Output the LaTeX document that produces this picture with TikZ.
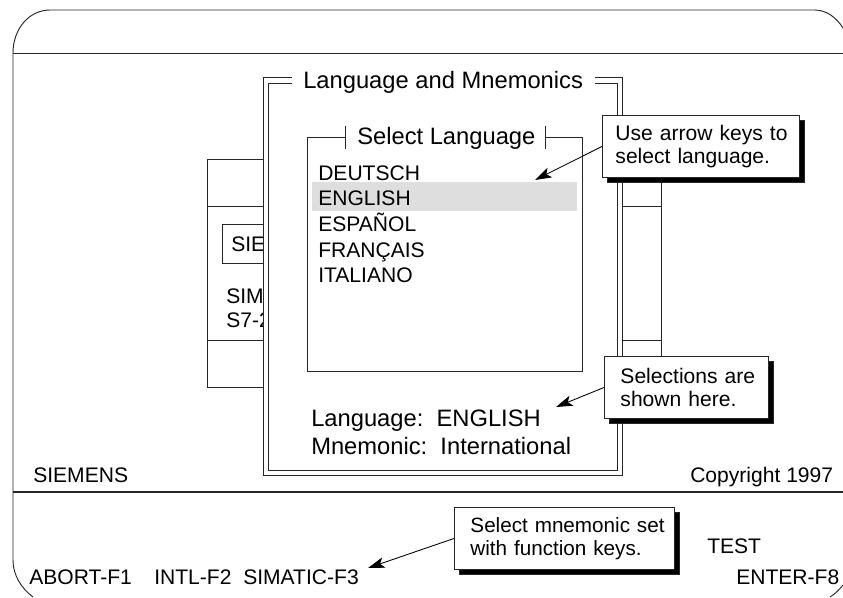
\documentclass[tikz,border=0pt]{standalone}
\usepackage{fontspec}
\setmainfont{Liberation Sans}
\usetikzlibrary{arrows.meta}
\definecolor{linegray}{gray}{0.15}
\definecolor{hilite}{gray}{0.87}
\tikzset{
  rule/.style={draw=linegray,line width=0.7pt},
  lbl/.style={anchor=base west,inner sep=0pt,font=\fontsize{15.8pt}{19pt}\selectfont},
  biglbl/.style={anchor=base west,inner sep=0pt,font=\fontsize{17.8pt}{21pt}\selectfont},
  callout/.style={rectangle,draw=linegray,line width=0.7pt,fill=white,anchor=north west,inner xsep=0pt,inner ysep=0pt,align=left,
     font=\fontsize{15.8pt}{17.25pt}\selectfont,minimum height=46.5pt},
  shadowbox/.style={fill=black,draw=linegray,line width=0.5pt},
  pointer/.style={draw=black,line width=0.65pt,-{Stealth[length=12.5pt,width=8pt,inset=3pt]}}
}
\begin{document}
\begin{tikzpicture}[x=0.75pt,y=-0.75pt]
\useasboundingbox (0,0) rectangle (843,597);
\clip (0,0) rectangle (843,597);
% screen frame
\draw[rule] (843,28) .. controls (836,17) and (826,10) .. (815,10) -- (50,10)
  .. controls (29,10) and (13,29) .. (13,53) -- (13,560)
  .. controls (13,575) and (21,588) .. (33,597);
\draw[rule] (843,585) .. controls (839,590) and (835,594) .. (830,597);
\draw[rule] (13,53) -- (843,53);
\draw[rule,line width=1.1pt] (13,492) -- (843,492);
% window behind the dialog
\draw[rule] (207,159) rectangle (661,387);
\draw[rule] (207,206) -- (661,206);
\draw[rule] (207,340) -- (661,340);
\draw[rule] (222,224) rectangle (300,263);
\node[lbl] (sie) at (231,251) {SIE};
\node[lbl] (sim) at (226,303) {SIM};
\node[lbl] (s7) at (226,327) {S7-2};
% dialog
\fill[white] (263.5,77) rectangle (622,475);
\draw[rule] (292,77) -| (263.5,475) -| (622,77) -- (595,77);
\draw[rule] (292,83) -| (268,470) -| (617,83) -- (595,83);
\node[biglbl] (dlgtitle) at (303,88) {Language and Mnemonics};
% list
\draw[rule] (345,137) -| (307,371) -| (582,137) -- (545,137);
\draw[rule] (345,126) -- (345,149);
\draw[rule] (545,126) -- (545,149);
\node[biglbl] (listtitle) at (357,144) {Select Language};
\fill[hilite] (312,182) rectangle (577,211);
\node[lbl] (de) at (318,180) {DEUTSCH};
\node[lbl] (en) at (318,205) {ENGLISH};
\node[lbl] (es) at (318,231) {ESPAÑOL};
\node[lbl] (fr) at (318,257) {FRANÇAIS};
\node[lbl] (it) at (318,282) {ITALIANO};
\node[biglbl] (lang) at (311,426) {Language:\ \ ENGLISH};
\node[biglbl] (mnem) at (311,454) {Mnemonic:\ \ International};
% status
\node[lbl] (siemens) at (33,482) {SIEMENS};
\node[lbl] (copy) at (690,482) {Copyright 1997};
\node[lbl] (abort) at (29,584) {ABORT-F1};
\node[lbl] (intl) at (154,584) {INTL-F2};
\node[lbl] (simatic) at (243,584) {SIMATIC-F3};
\node[lbl] (test) at (707,553) {TEST};
\node[lbl] (enter) at (736,584) {ENTER-F8};
% callouts
\fill[shadowbox] (607,120) rectangle (804,182);
\node[callout,minimum width=147.75pt,text width=147.75pt] (c1) at (602,115) {\hspace*{9.75pt}Use arrow keys to\\\hspace*{9.75pt}select language.};
\fill[shadowbox] (609,361) rectangle (773,423);
\node[callout,minimum width=123pt,text width=123pt] (c2) at (604,356) {\hspace*{12pt}Selections are\\\hspace*{12pt}shown here.};
\fill[shadowbox] (459,512) rectangle (679,574);
\node[callout,minimum width=165pt,text width=165pt,font=\fontsize{15.5pt}{17.25pt}\selectfont] (c3) at (454,507) {\hspace*{12pt}Select mnemonic set\\\hspace*{12pt}with function keys.};
\coordinate (t1) at (535,180);
\coordinate (t2) at (556,407);
\coordinate (t3) at (368,568);
\draw[pointer] (c1.west) -- (t1);
\draw[pointer] (c2.west) -- (t2);
\draw[pointer] (c3.west) -- (t3);
\end{tikzpicture}
\end{document}
